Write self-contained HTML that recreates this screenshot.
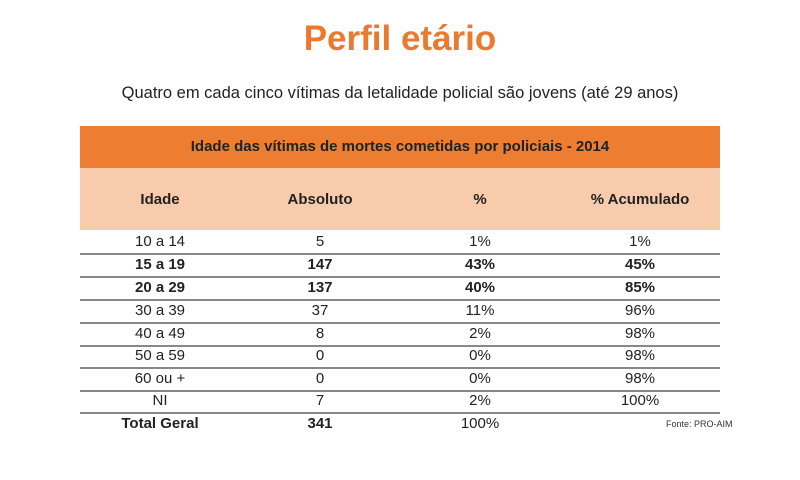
<!DOCTYPE html>
<html><head><meta charset="utf-8"><style>
body{margin:0;width:800px;height:480px;background:#fff;font-family:"Liberation Sans",sans-serif;position:relative;overflow:hidden}
.a{position:absolute;white-space:nowrap}
.c{position:absolute;transform:translateX(-50%);white-space:nowrap;font-size:15px;color:#222}
.b{font-weight:bold}
.l{position:absolute;left:80px;width:640px;height:2px;background:#888}
</style></head><body>
<div class="c b" style="left:400px;top:19px;font-size:35px;color:#ec7a2e">Perfil etário</div>
<div class="c" style="left:400px;top:84px;font-size:16.5px">Quatro em cada cinco vítimas da letalidade policial são jovens (até 29 anos)</div>
<div class="a" style="left:80px;top:126px;width:640px;height:42px;background:#ed7d31"></div>
<div class="a" style="left:80px;top:168px;width:640px;height:62px;background:#f8cbad"></div>
<div class="c b" style="left:400px;top:138px;font-size:15px">Idade das vítimas de mortes cometidas por policiais - 2014</div>
<div class="c b" style="left:160px;top:191px">Idade</div>
<div class="c b" style="left:320px;top:191px">Absoluto</div>
<div class="c b" style="left:480px;top:191px">%</div>
<div class="c b" style="left:640px;top:191px">% Acumulado</div>

<div class="c" style="left:160px;top:233px">10 a 14</div><div class="c" style="left:320px;top:233px">5</div><div class="c" style="left:480px;top:233px">1%</div><div class="c" style="left:640px;top:233px">1%</div>
<div class="l" style="top:253px"></div>
<div class="c b" style="left:160px;top:256px">15 a 19</div><div class="c b" style="left:320px;top:256px">147</div><div class="c b" style="left:480px;top:256px">43%</div><div class="c b" style="left:640px;top:256px">45%</div>
<div class="l" style="top:276px"></div>
<div class="c b" style="left:160px;top:279px">20 a 29</div><div class="c b" style="left:320px;top:279px">137</div><div class="c b" style="left:480px;top:279px">40%</div><div class="c b" style="left:640px;top:279px">85%</div>
<div class="l" style="top:299px"></div>
<div class="c" style="left:160px;top:302px">30 a 39</div><div class="c" style="left:320px;top:302px">37</div><div class="c" style="left:480px;top:302px">11%</div><div class="c" style="left:640px;top:302px">96%</div>
<div class="l" style="top:322px"></div>
<div class="c" style="left:160px;top:325px">40 a 49</div><div class="c" style="left:320px;top:325px">8</div><div class="c" style="left:480px;top:325px">2%</div><div class="c" style="left:640px;top:325px">98%</div>
<div class="l" style="top:345px"></div>
<div class="c" style="left:160px;top:347px">50 a 59</div><div class="c" style="left:320px;top:347px">0</div><div class="c" style="left:480px;top:347px">0%</div><div class="c" style="left:640px;top:347px">98%</div>
<div class="l" style="top:367px"></div>
<div class="c" style="left:160px;top:370px">60 ou +</div><div class="c" style="left:320px;top:370px">0</div><div class="c" style="left:480px;top:370px">0%</div><div class="c" style="left:640px;top:370px">98%</div>
<div class="l" style="top:390px"></div>
<div class="c" style="left:160px;top:392px">NI</div><div class="c" style="left:320px;top:392px">7</div><div class="c" style="left:480px;top:392px">2%</div><div class="c" style="left:640px;top:392px">100%</div>
<div class="l" style="top:412px"></div>
<div class="c b" style="left:160px;top:415px">Total Geral</div><div class="c b" style="left:320px;top:415px">341</div><div class="c" style="left:480px;top:415px">100%</div>
<div class="a" style="left:666px;top:419px;font-size:9px;color:#333">Fonte: PRO-AIM</div>
</body></html>
